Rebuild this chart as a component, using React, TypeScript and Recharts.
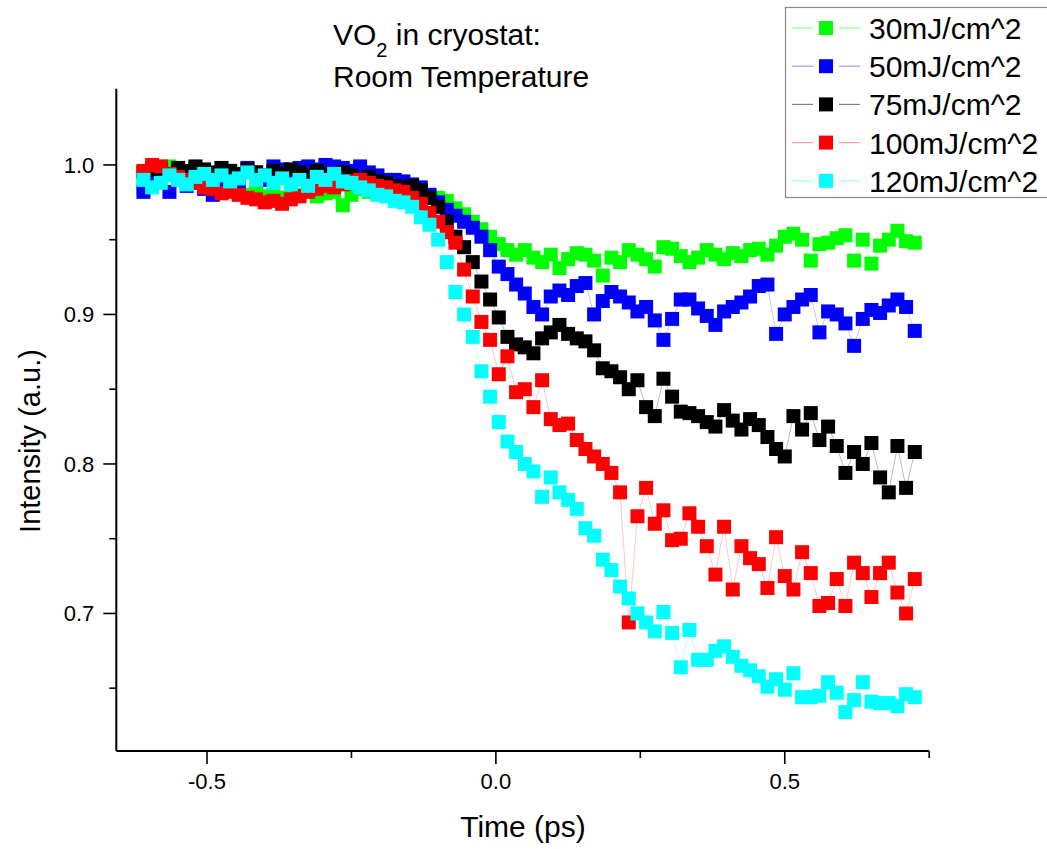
import React from 'react';
import { LineChart, Line, XAxis, YAxis } from 'recharts';

const FONT = '"Liberation Sans", Arial, Helvetica, sans-serif';

const TIME = [
  -0.61, -0.595, -0.58, -0.565, -0.55, -0.535, -0.52, -0.505, -0.49, -0.475,
  -0.46, -0.445, -0.43, -0.415, -0.4, -0.385, -0.37, -0.355, -0.34, -0.325,
  -0.31, -0.295, -0.28, -0.265, -0.25, -0.235, -0.22, -0.205, -0.19, -0.175,
  -0.16, -0.145, -0.13, -0.115, -0.1, -0.085, -0.07, -0.055, -0.04, -0.025,
  -0.01, 0.005, 0.02, 0.035, 0.05, 0.065, 0.08, 0.095, 0.11, 0.125,
  0.14, 0.155, 0.17, 0.185, 0.2, 0.215, 0.23, 0.245, 0.26, 0.275,
  0.29, 0.305, 0.32, 0.335, 0.35, 0.365, 0.38, 0.395, 0.41, 0.425,
  0.44, 0.455, 0.47, 0.485, 0.5, 0.515, 0.53, 0.545, 0.56, 0.575,
  0.59, 0.605, 0.62, 0.635, 0.65, 0.665, 0.68, 0.695, 0.71, 0.725,
];

const E30 = [
  0.985, 0.99, 0.998, 0.999, 0.99, 0.994, 0.988, 0.992, 0.985, 0.99,
  0.986, 0.982, 0.98, 0.983, 0.979, 0.981, 0.978, 0.982, 0.98, 0.983,
  0.979, 0.981, 0.982, 0.973, 0.98, 0.984, 0.982, 0.981, 0.985, 0.983,
  0.986, 0.984, 0.983, 0.98, 0.978, 0.976, 0.971, 0.967, 0.962, 0.957,
  0.952, 0.947, 0.943, 0.94, 0.943, 0.938, 0.935, 0.94, 0.931, 0.937,
  0.941, 0.94, 0.936, 0.926, 0.938, 0.935, 0.943, 0.94, 0.937, 0.932,
  0.945, 0.944, 0.939, 0.935, 0.938, 0.943, 0.94, 0.937, 0.941, 0.939,
  0.943, 0.944, 0.94, 0.946, 0.952, 0.954, 0.95, 0.936, 0.947, 0.948,
  0.951, 0.953, 0.936, 0.95, 0.934, 0.946, 0.95, 0.956, 0.949, 0.948,
];

const E50 = [
  0.982, 0.99, 0.996, 0.982, 0.993, 0.986, 0.997, 0.984, 0.98, 0.99,
  0.996, 0.987, 0.998, 0.995, 0.99, 0.999, 0.997, 0.993, 0.998, 0.999,
  0.997, 1.0, 0.999, 0.998, 0.996, 0.999, 0.995, 0.993, 0.99, 0.99,
  0.989, 0.987, 0.985, 0.98, 0.975, 0.97, 0.966, 0.962, 0.958, 0.952,
  0.943, 0.932, 0.927, 0.92, 0.914, 0.905, 0.9, 0.912, 0.916, 0.913,
  0.919, 0.921, 0.9, 0.909, 0.915, 0.912, 0.908, 0.902, 0.905, 0.896,
  0.883, 0.897, 0.91, 0.91, 0.904, 0.899, 0.893, 0.902, 0.905, 0.908,
  0.912, 0.919, 0.92, 0.887, 0.9, 0.905, 0.91, 0.913, 0.888, 0.902,
  0.9, 0.894, 0.879, 0.897, 0.903, 0.901, 0.906, 0.91, 0.905, 0.889,
];

const E75 = [
  0.995, 0.997, 0.998, 0.994, 0.998, 0.996, 0.999, 0.997, 0.995, 0.998,
  0.996, 0.994, 0.997, 0.995, 0.993, 0.996, 0.994, 0.997, 0.995, 0.993,
  0.996, 0.994, 0.992, 0.995, 0.993, 0.99, 0.992, 0.989, 0.988, 0.986,
  0.985, 0.986, 0.983, 0.978, 0.972, 0.962, 0.952, 0.945, 0.935, 0.922,
  0.91, 0.898, 0.885, 0.88, 0.878, 0.874, 0.884, 0.888, 0.893, 0.887,
  0.884, 0.882, 0.876, 0.864, 0.862, 0.858, 0.85, 0.856, 0.838, 0.832,
  0.857, 0.845, 0.835, 0.834, 0.832, 0.828, 0.825, 0.836, 0.829, 0.823,
  0.83, 0.826, 0.818, 0.81, 0.805, 0.832, 0.823, 0.834, 0.816, 0.825,
  0.812, 0.794, 0.808, 0.8, 0.814, 0.791, 0.781, 0.812, 0.784, 0.808,
];

const E100 = [
  0.996, 1.0, 0.999, 0.994, 0.992, 0.99, 0.988, 0.985, 0.984, 0.981,
  0.982, 0.98, 0.978, 0.977, 0.975, 0.976, 0.974, 0.977, 0.979, 0.982,
  0.984, 0.986, 0.985, 0.987, 0.989, 0.99, 0.988, 0.986, 0.985, 0.983,
  0.982, 0.978, 0.974, 0.968, 0.962, 0.955, 0.948, 0.93, 0.912, 0.895,
  0.883, 0.86, 0.872, 0.848, 0.85, 0.838, 0.856, 0.83, 0.826, 0.827,
  0.816, 0.81, 0.805, 0.8, 0.794, 0.781, 0.694, 0.765, 0.784, 0.76,
  0.769, 0.749, 0.75, 0.767, 0.758, 0.745, 0.726, 0.758, 0.716, 0.745,
  0.737, 0.733, 0.717, 0.751, 0.725, 0.716, 0.741, 0.727, 0.705, 0.707,
  0.723, 0.705, 0.734, 0.727, 0.711, 0.727, 0.734, 0.714, 0.7, 0.723,
];

const E120 = [
  0.99, 0.985, 0.988, 0.993, 0.99, 0.987, 0.992, 0.994, 0.99, 0.993,
  0.989, 0.991, 0.995, 0.99, 0.993, 0.988, 0.991, 0.987, 0.99, 0.986,
  0.992, 0.99, 0.994, 0.989, 0.988, 0.985, 0.983, 0.98, 0.979, 0.976,
  0.975, 0.972, 0.965, 0.96, 0.95, 0.935, 0.915, 0.9, 0.885, 0.862,
  0.845, 0.828, 0.815, 0.808, 0.8, 0.795, 0.778, 0.791, 0.781, 0.776,
  0.77, 0.757, 0.752, 0.736, 0.729, 0.718, 0.71, 0.7, 0.694, 0.688,
  0.701, 0.687, 0.664, 0.689, 0.669, 0.669, 0.675, 0.678, 0.671, 0.665,
  0.662, 0.658, 0.651, 0.656, 0.649, 0.66, 0.644, 0.644, 0.645, 0.654,
  0.647, 0.634, 0.642, 0.654, 0.641, 0.64, 0.64, 0.638, 0.646, 0.644,
];

const SERIES = [
  { key: 'e30', name: '30mJ/cm^2', values: E30, color: '#00ff00', line: '#b0ffb0', legendLine: '#8cff8c' },
  { key: 'e50', name: '50mJ/cm^2', values: E50, color: '#0000ff', line: '#b8b8ff', legendLine: '#9a9aff' },
  { key: 'e75', name: '75mJ/cm^2', values: E75, color: '#000000', line: '#a8a8a8', legendLine: '#808080' },
  { key: 'e100', name: '100mJ/cm^2', values: E100, color: '#ff0000', line: '#ffb8b8', legendLine: '#ff9a9a' },
  { key: 'e120', name: '120mJ/cm^2', values: E120, color: '#00ffff', line: '#b8ffff', legendLine: '#9affff' },
];

const X_TICKS = [-0.5, -0.25, 0, 0.25, 0.5, 0.75];
const X_LABELED = [-0.5, 0, 0.5];
const Y_TICKS = [0.65, 0.7, 0.75, 0.8, 0.85, 0.9, 0.95, 1.0];
const Y_LABELED = [0.7, 0.8, 0.9, 1.0];

const X_DOMAIN = [-0.657, 0.75];
const Y_DOMAIN = [0.608, 1.051];

const data = TIME.map((t, i) => {
  const row: any = { t };
  SERIES.forEach((s) => {
    row[s.key] = s.values[i];
  });
  return row;
});

const isIn = (arr: number[], v: number) => arr.some((m) => Math.abs(m - v) < 1e-6);

const XTick = (props: any) => {
  const { x, y, payload } = props;
  const v = payload.value;
  const major = isIn(X_LABELED, v);
  return (
    <g>
      <line x1={x} x2={x} y1={y} y2={y + (major ? 13 : 7)} stroke="#000" strokeWidth={1.6} />
      {major && (
        <text x={x} y={y + 38} textAnchor="middle" fontSize={22} fontFamily={FONT} fill="#000">
          {v.toFixed(1)}
        </text>
      )}
    </g>
  );
};

const YTick = (props: any) => {
  const { x, y, payload } = props;
  const v = payload.value;
  const major = isIn(Y_LABELED, v);
  return (
    <g>
      <line x1={x} x2={x - (major ? 13 : 7)} y1={y} y2={y} stroke="#000" strokeWidth={1.6} />
      {major && (
        <text x={x - 22} y={y + 8} textAnchor="end" fontSize={22} fontFamily={FONT} fill="#000">
          {v.toFixed(1)}
        </text>
      )}
    </g>
  );
};

const squareDot = (color: string) => (props: any) => {
  const { cx, cy, index } = props;
  if (cx == null || cy == null) return <g key={index} />;
  return <rect key={index} x={cx - 7} y={cy - 7} width={14} height={14} fill={color} />;
};

export default function App() {
  const W = 1047;
  const H = 849;
  return (
    <div style={{ position: 'absolute', left: 0, top: 0, width: W, height: H, overflow: 'hidden', background: '#fff' }}>
      <LineChart
        width={W}
        height={H}
        data={data}
        margin={{ top: 88.7, right: W - 929.2, bottom: H - 751 - 40, left: 116.3 - 60 }}
      >
        <XAxis
          type="number"
          dataKey="t"
          domain={X_DOMAIN}
          ticks={X_TICKS}
          interval={0}
          allowDataOverflow
          height={40}
          tickSize={0}
          tickMargin={0}
          tickLine={false}
          axisLine={{ stroke: '#000', strokeWidth: 2 }}
          tick={<XTick />}
        />
        <YAxis
          type="number"
          domain={Y_DOMAIN}
          ticks={Y_TICKS}
          interval={0}
          allowDataOverflow
          width={60}
          tickSize={0}
          tickMargin={0}
          tickLine={false}
          axisLine={{ stroke: '#000', strokeWidth: 2 }}
          tick={<YTick />}
        />
        {SERIES.map((s) => (
          <Line
            key={s.key}
            dataKey={s.key}
            name={s.name}
            type="linear"
            stroke={s.line}
            strokeWidth={0.8}
            dot={squareDot(s.color)}
            activeDot={false}
            isAnimationActive={false}
          />
        ))}
      </LineChart>
      <svg
        width={W}
        height={H}
        style={{ position: 'absolute', left: 0, top: 0, pointerEvents: 'none' }}
      >
        <text x={333} y={45} fontSize={30} fontFamily={FONT} fill="#000">
          VO
          <tspan fontSize={20} dy={12}>2</tspan>
          <tspan dy={-12}> in cryostat:</tspan>
        </text>
        <text x={333} y={87} fontSize={30} fontFamily={FONT} fill="#000">
          Room Temperature
        </text>
        <text x={523} y={837} textAnchor="middle" fontSize={30} fontFamily={FONT} fill="#000">
          Time (ps)
        </text>
        <text
          x={0}
          y={0}
          transform="translate(40,441) rotate(-90)"
          textAnchor="middle"
          fontSize={29}
          fontFamily={FONT}
          fill="#000"
        >
          Intensity (a.u.)
        </text>
        <rect x={785.5} y={7.5} width={280} height={190} fill="#fff" stroke="#888" strokeWidth={1.2} />
        {SERIES.map((s, i) => {
          const cy = 28 + i * 38.2;
          return (
            <g key={s.key}>
              <line x1={792} x2={813} y1={cy} y2={cy} stroke={s.legendLine} strokeWidth={1.2} />
              <rect x={819} y={cy - 7} width={14} height={14} fill={s.color} />
              <line x1={839} x2={860} y1={cy} y2={cy} stroke={s.legendLine} strokeWidth={1.2} />
              <text x={869} y={cy + 11} fontSize={30} fontFamily={FONT} fill="#000">
                {s.name}
              </text>
            </g>
          );
        })}
      </svg>
    </div>
  );
}
